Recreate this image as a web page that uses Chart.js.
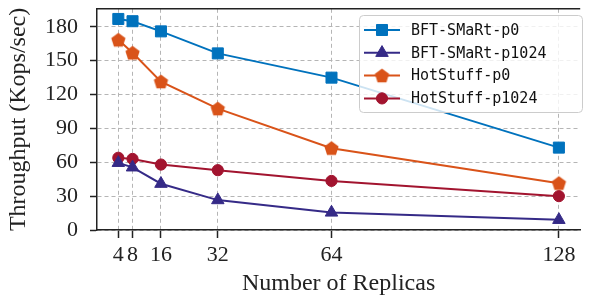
<!DOCTYPE html>
<html>
<head>
<meta charset="utf-8">
<script src="https://cdn.jsdelivr.net/npm/chart.js@4/dist/chart.umd.min.js"></script>
<style>
  html, body { margin: 0; padding: 0; background: #fff; }
  #wrap { width: 589px; height: 302px; position: relative; }
</style>
</head>
<body>
<div id="wrap"><canvas id="chart"></canvas></div>
<script>
// data
const replicas = [4, 8, 16, 32, 64, 128];
const bftP0 = [187, 185, 176, 156.5, 135, 73];
const bftP1024 = [59.5, 55.5, 41, 26.5, 15.5, 9];
const hsP0 = [168.5, 157, 131.5, 107.5, 72.5, 41.5];
const hsP1024 = [64, 63, 58, 53, 43.5, 30];
const yTicks = [0, 30, 60, 90, 120, 150, 180];

const seriesNames = ['BFT-SMaRt-p0', 'BFT-SMaRt-p1024', 'HotStuff-p0', 'HotStuff-p1024'];
const seriesColors = ['#0072BD', '#352A87', '#D95319', '#A2142F'];

// pentagon marker, there is no built-in one
function makePentagon(color, R) {
    const c = document.createElement('canvas');
    const s = Math.ceil(R * 2 + 4);
    c.width = s; c.height = s;
    const g = c.getContext('2d');
    g.beginPath();
    for (let i = 0; i < 5; i++) {
        const a = -Math.PI / 2 + i * 2 * Math.PI / 5;
        const px = s / 2 + R * Math.cos(a);
        const py = s / 2 + 0.6 + R * Math.sin(a);
        if (i === 0) g.moveTo(px, py); else g.lineTo(px, py);
    }
    g.closePath();
    g.fillStyle = color;
    g.fill();
    return c;
}
const pentagon = makePentagon(seriesColors[2], 7.5);

const markers = [
    { style: 'rect', radius: 7.8 },
    { style: 'triangle', radius: 7.2 },
    { style: pentagon, radius: 7.5 },
    { style: 'circle', radius: 5.6 }
];
const seriesData = [bftP0, bftP1024, hsP0, hsP1024];

const datasets = seriesData.map((vals, i) => ({
    label: seriesNames[i],
    data: vals.map((v, j) => ({ x: replicas[j], y: v })),
    borderColor: seriesColors[i],
    backgroundColor: seriesColors[i],
    borderWidth: 2,
    pointStyle: markers[i].style,
    pointRadius: markers[i].radius,
    pointHoverRadius: markers[i].radius,
    pointBorderWidth: 1,
    tension: 0,
    clip: false
}));

const serif = "'Liberation Serif', 'Times New Roman', serif";
const ink = '#222';

const frameAndLegend = {
    id: 'frameAndLegend',
    afterDatasetsDraw(chart) {
        const ctx = chart.ctx;
        const a = chart.chartArea;
        ctx.save();
        // top spine
        ctx.strokeStyle = ink;
        ctx.lineWidth = 1.5;
        ctx.beginPath();
        ctx.moveTo(a.left - 0.75, a.top);
        ctx.lineTo(a.right, a.top);
        ctx.stroke();

        // legend box
        const bx = 359.5, by = 15.5, bw = 223, bh = 97;
        ctx.beginPath();
        ctx.roundRect(bx, by, bw, bh, 4);
        ctx.fillStyle = 'rgba(255,255,255,0.8)';
        ctx.fill();
        ctx.strokeStyle = '#cccccc';
        ctx.lineWidth = 1;
        ctx.stroke();

        ctx.font = "15px 'DejaVu Sans Mono', monospace";
        ctx.textBaseline = 'middle';
        seriesNames.forEach((name, i) => {
            const yy = 30 + i * 22.8;
            ctx.strokeStyle = seriesColors[i];
            ctx.lineWidth = 2;
            ctx.beginPath();
            ctx.moveTo(364, yy);
            ctx.lineTo(400, yy);
            ctx.stroke();
            ctx.fillStyle = seriesColors[i];
            ctx.lineWidth = 1;
            Chart.helpers.drawPoint(ctx, {
                pointStyle: markers[i].style,
                radius: markers[i].radius,
                rotation: 0,
                borderWidth: 1
            }, 382, yy);
            ctx.fillStyle = '#111';
            ctx.fillText(name, 411, yy + 1);
        });
        ctx.restore();
    }
};

new Chart(document.getElementById('chart'), {
    type: 'line',
    data: { datasets },
    options: {
        responsive: true,
        maintainAspectRatio: false,
        animation: false,
        layout: { padding: { top: 8, right: 0, left: 0, bottom: 0 } },
        plugins: {
            legend: { display: false },
            tooltip: { enabled: false }
        },
        scales: {
            x: {
                type: 'linear',
                min: -2,
                max: 134,
                afterBuildTicks(s) { s.ticks = replicas.map(v => ({ value: v })); },
                afterFit(s) {
                    s.height = 72;
                    s.paddingLeft = 0;
                    s.paddingRight = 0;
                },
                ticks: {
                    autoSkip: false,
                    maxRotation: 0,
                    padding: 4,
                    color: ink,
                    font: { family: serif, size: 22 },
                    callback: v => String(v)
                },
                grid: {
                    color: '#b5b5b5',
                    lineWidth: 1,
                    tickLength: 8,
                    tickColor: ink,
                    tickWidth: 1.5
                },
                border: { display: true, color: ink, width: 1.5, dash: [4, 3] },
                title: {
                    display: true,
                    text: 'Number of Replicas',
                    color: ink,
                    font: { family: serif, size: 24 },
                    padding: { top: 0, bottom: 3.6 }
                }
            },
            y: {
                min: 0,
                max: 196,
                afterBuildTicks(s) { s.ticks = yTicks.map(v => ({ value: v })); },
                afterFit(s) {
                    s.width = 97;
                    s.paddingTop = 0;
                    s.paddingBottom = 0;
                },
                ticks: {
                    padding: 12,
                    color: ink,
                    font: { family: serif, size: 22 }
                },
                grid: {
                    color: '#b5b5b5',
                    lineWidth: 1,
                    tickLength: 7,
                    tickColor: ink,
                    tickWidth: 1.5
                },
                border: { display: true, color: ink, width: 1.5, dash: [4, 3] },
                title: {
                    display: true,
                    text: 'Throughput (Kops/sec)',
                    color: ink,
                    font: { family: serif, size: 24 },
                    padding: { top: 4.6, bottom: 0 }
                }
            }
        }
    },
    plugins: [frameAndLegend]
});
</script>
</body>
</html>
